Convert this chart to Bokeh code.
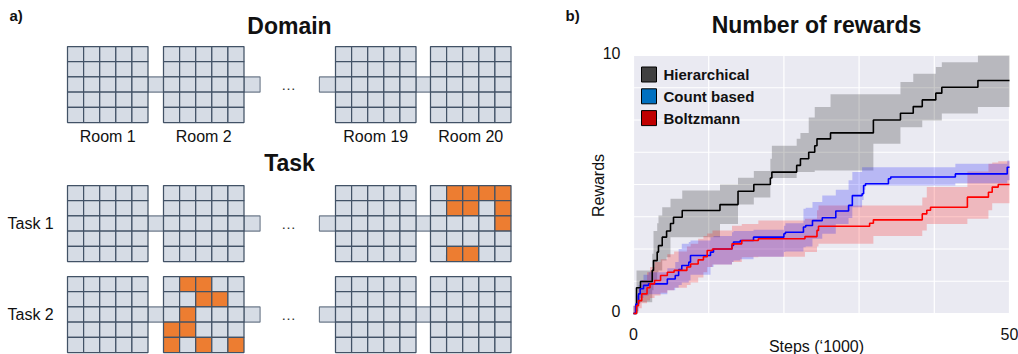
import math
from bokeh.plotting import figure
from bokeh.models import Range1d
from bokeh.embed import file_html
from bokeh.resources import INLINE
from bokeh.core.properties import value

FONT = "Liberation Sans"

# ---------------- data: panel a (diagram) ----------------
ROOM_LABELS = ["Room 1", "Room 2", "Room 19", "Room 20"]
ROW_LABELS = ["Task 1", "Task 2"]
HEADINGS = ["Domain", "Task"]
PANEL_TAGS = ["a)", "b)"]
GRID_N = 5
# goal cells as (row, col), row 0 = top
TASK1_GOALS = [(0, 1), (0, 2), (0, 3), (0, 4), (1, 1), (1, 2), (1, 4), (2, 4), (4, 1), (4, 2)]  # in Room 20
TASK2_GOALS = [(0, 1), (0, 2), (1, 2), (1, 3), (2, 1), (3, 0), (3, 1), (4, 0), (4, 2), (4, 4)]  # in Room 2

# ---------------- data: panel b (rewards) ----------------
HIER_X = [0, 0.4, 0.93, 2.49, 2.66, 3.15, 3.32, 3.82, 4.4, 4.92, 5.32, 6.48, 11.5, 13.9, 16.0, 18.2, 18.4,
          21.7, 22.2, 23.3, 24.1, 24.4, 26.2, 31.9, 35.5, 37.2, 38.4, 40.2, 41.0, 45.8]
HIER_MEAN = [0, 1.0, 1.24, 1.67, 2.05, 2.38, 2.63, 2.96, 3.2, 3.49, 3.73, 3.99, 4.22, 4.74, 5.0, 5.25, 5.48,
             5.74, 6.0, 6.25, 6.5, 6.77, 7.0, 7.5, 7.76, 8.02, 8.28, 8.54, 8.77, 9.03]
HIER_LO = [0, 0.4, 0.44, 0.9, 1.28, 1.6, 1.67, 2.05, 2.18, 2.96, 2.96, 2.96, 3.47, 4.22, 4.5, 5.25, 5.25,
           5.48, 5.48, 5.48, 5.54, 5.54, 5.54, 6.58, 7.22, 7.22, 7.48, 7.48, 7.75, 8.0]
HIER_HI = [0.3, 1.67, 1.67, 2.32, 3.2, 3.5, 3.8, 4.12, 4.12, 4.45, 4.45, 4.77, 5.0, 5.26, 5.52, 6.0, 6.5,
           6.77, 7.0, 7.6, 8.0, 8.0, 8.5, 8.5, 8.97, 9.29, 9.29, 9.55, 9.74, 10.0]

COUNT_X = [0, 0.31, 0.66, 0.89, 1.33, 2.0, 4.5, 5.55, 6.0, 6.42, 7.35, 7.58, 10.24, 10.64, 13.1, 13.3, 14.2,
           15.96, 20.0, 20.2, 22.6, 22.9, 23.8, 25.1, 26.9, 28.6, 29.1, 30.4, 30.6, 30.85, 33.9, 34.2, 42.8, 49.7]
COUNT_MEAN = [0, 0.37, 0.76, 0.96, 1.09, 1.15, 1.34, 1.47, 1.7, 1.86, 1.99, 2.25, 2.38, 2.5, 2.64, 2.77, 2.83,
              2.96, 3.09, 3.15, 3.35, 3.41, 3.6, 3.71, 3.97, 4.19, 4.57, 4.64, 4.96, 5.03, 5.22, 5.29, 5.41, 5.67]
COUNT_LO = [0, 0.1, 0.4, 0.6, 0.7, 0.75, 0.9, 1.0, 1.1, 1.2, 1.28, 1.5, 1.8, 1.9, 2.0, 2.05, 2.1,
            2.2, 2.38, 2.4, 2.57, 2.6, 2.9, 3.09, 3.47, 3.7, 4.12, 4.4, 4.8, 4.96, 4.96, 4.96, 5.05, 5.16]
COUNT_HI = [0.3, 0.7, 1.1, 1.3, 1.5, 1.6, 1.75, 2.0, 2.5, 2.7, 2.77, 2.83, 2.96, 3.0, 3.15, 3.2, 3.2,
            3.25, 3.4, 3.5, 4.06, 4.1, 4.32, 4.57, 4.8, 5.16, 5.48, 5.67, 5.67, 5.67, 5.67, 5.67, 5.8, 5.93]

BOLTZ_X = [0, 0.4, 0.66, 1.1, 1.8, 2.2, 2.8, 3.6, 4.5, 5.4, 7.1, 7.6, 8.6, 9.3, 9.8, 10.5, 13.1, 14.4, 16.6,
           22.8, 24.4, 24.6, 31.4, 31.9, 38.4, 39.0, 39.5, 44.4, 47.2, 47.7, 48.5]
BOLTZ_MEAN = [0, 0.3, 0.5, 0.76, 1.0, 1.15, 1.28, 1.47, 1.6, 1.67, 1.8, 1.92, 2.08, 2.2, 2.44, 2.5, 2.7, 2.83,
              2.9, 2.98, 3.22, 3.38, 3.5, 3.63, 3.86, 4.0, 4.12, 4.51, 4.7, 4.9, 5.0]
BOLTZ_LO = [0, 0.05, 0.2, 0.4, 0.5, 0.6, 0.7, 0.8, 0.9, 1.0, 1.1, 1.2, 1.4, 1.6, 1.8, 1.9, 2.0, 2.18, 2.2,
            2.38, 2.6, 2.7, 2.7, 3.0, 3.22, 3.47, 3.47, 3.67, 4.0, 4.27, 4.27]
BOLTZ_HI = [0.3, 0.7, 1.0, 1.3, 1.6, 1.8, 2.0, 2.1, 2.3, 2.4, 2.6, 2.7, 2.9, 3.0, 3.1, 3.22, 3.4, 3.47, 3.6,
            3.67, 4.0, 4.19, 4.19, 4.19, 4.5, 4.9, 4.9, 5.5, 5.8, 5.85, 5.9]

SERIES_NAMES = ["Hierarchical", "Count based", "Boltzmann"]
CHART_TITLE = "Number of rewards"
X_LABEL = "Steps (\u20181000)"
Y_LABEL = "Rewards"
X_MAX = 50
Y_MAX = 10
X_TICKS = [0, 50]
Y_TICKS = [0, 10]
X_GRID = [0, 10, 20, 30, 40, 50]
Y_GRID = [0, 1.25, 2.5, 3.75, 5, 6.25, 7.5, 8.75, 10]

# ---------------- styles / layout (page pixels) ----------------
W, H = 1018, 354
CELL_FILL = "#d6dce5"
CELL_LINE = "#425266"
GOAL_FILL = "#ed7d31"
ROOM_LEFT = [67, 163, 335, 430]
BLOCK_TOP = [46, 185, 276]
CW, CH = 16.1, 15.2
FRAME_L, FRAME_R, FRAME_T, FRAME_B = 633, 1009, 55, 313
SERIES_LINE = ["black", "blue", "red"]
BAND_ORDER = [0, 2, 1]
LEGEND_SWATCH = ["#404040", "#0070c0", "#c00000"]
TXT = "#111111"

p = figure(width=W, height=H, x_range=Range1d(0, W), y_range=Range1d(H, 0),
           x_axis_type=None, y_axis_type=None, toolbar_location=None,
           output_backend="svg", min_border=0, outline_line_color=None, title=None,
           background_fill_color="white", border_fill_color="white")
p.grid.visible = False

# chart scales (the data ranges of panel b mapped onto its plot area)
sx = (FRAME_R - FRAME_L) / X_MAX
sy = (FRAME_B - FRAME_T) / Y_MAX
p.extra_x_ranges = {"cx": Range1d(-FRAME_L / sx, (W - FRAME_L) / sx)}
p.extra_y_ranges = {"cy": Range1d(-(H - FRAME_B) / sy, FRAME_B / sy)}
C = dict(x_range_name="cx", y_range_name="cy")

# ================= panel a =================
goal_sets = {(1, 3): set(TASK1_GOALS), (2, 1): set(TASK2_GOALS)}
cor_l, cor_r, cor_t, cor_b = [], [], [], []
cl, cr, ct, cb, cf = [], [], [], [], []
for b, top in enumerate(BLOCK_TOP):
    mid_t = top + 2 * CH
    mid_b = mid_t + CH
    rr = [x + GRID_N * CW for x in ROOM_LEFT]
    segs = [(rr[0], ROOM_LEFT[1]), (rr[1], rr[1] + CW), (ROOM_LEFT[2] - CW, ROOM_LEFT[2]), (rr[2], ROOM_LEFT[3])]
    for l, r in segs:
        cor_l.append(l); cor_r.append(r); cor_t.append(mid_t); cor_b.append(mid_b)
    for ri, x0 in enumerate(ROOM_LEFT):
        goals = goal_sets.get((b, ri), set())
        for i in range(GRID_N):
            for j in range(GRID_N):
                cl.append(x0 + j * CW); cr.append(x0 + (j + 1) * CW)
                ct.append(top + i * CH); cb.append(top + (i + 1) * CH)
                cf.append(GOAL_FILL if (i, j) in goals else CELL_FILL)

p.quad(left=cor_l, right=cor_r, top=cor_t, bottom=cor_b, fill_color=CELL_FILL,
       line_color=CELL_LINE, line_width=1.1, line_alpha=0.75)
p.quad(left=cl, right=cr, top=ct, bottom=cb, fill_color=cf,
       line_color=CELL_LINE, line_width=1.25)

room_cx = [x + GRID_N * CW / 2 for x in ROOM_LEFT]
p.text(x=room_cx, y=[136] * len(ROOM_LABELS), text=ROOM_LABELS, text_font=value(FONT),
       text_font_size="16px", text_align="center", text_baseline="middle", text_color=TXT)
p.text(x=[7, 7], y=[BLOCK_TOP[1] + 2.5 * CH, BLOCK_TOP[2] + 2.5 * CH], text=ROW_LABELS,
       text_font=value(FONT), text_font_size="16px", text_align="left", text_baseline="middle",
       text_color=TXT)
p.text(x=[289, 289], y=[25, 162], text=HEADINGS, text_font=value(FONT), text_font_size="23px",
       text_font_style="bold", text_align="center", text_baseline="middle", text_color=TXT)
p.text(x=[288, 288, 288], y=[BLOCK_TOP[k] + 2.5 * CH for k in range(3)], text=["\u2026"] * 3,
       text_font=value(FONT), text_font_size="15px", text_align="center", text_baseline="middle",
       text_color="#333333")
p.text(x=[9, 565], y=[15, 15], text=PANEL_TAGS, text_font=value(FONT), text_font_size="15px",
       text_font_style="bold", text_align="left", text_baseline="middle", text_color=TXT)

# ================= panel b =================
p.quad(left=[0], right=[X_MAX], bottom=[0], top=[Y_MAX], fill_color="#eaeaf2", line_color=None, **C)
p.segment(x0=X_GRID, x1=X_GRID, y0=[0] * len(X_GRID), y1=[Y_MAX] * len(X_GRID),
          line_color="white", line_width=1.2, **C)
p.segment(x0=[0] * len(Y_GRID), x1=[X_MAX] * len(Y_GRID), y0=Y_GRID, y1=Y_GRID,
          line_color="white", line_width=1.2, **C)


def ext(xs):
    return list(xs) + [X_MAX]


def extv(vs):
    return list(vs) + [vs[-1]]


series = [
    (HIER_X, HIER_MEAN, HIER_LO, HIER_HI),
    (COUNT_X, COUNT_MEAN, COUNT_LO, COUNT_HI),
    (BOLTZ_X, BOLTZ_MEAN, BOLTZ_LO, BOLTZ_HI),
]
for k in BAND_ORDER:
    xs, m, lo, hi = series[k]
    p.varea_step(x=ext(xs), y1=extv(lo), y2=extv(hi), step_mode="after",
                 fill_color=SERIES_LINE[k], fill_alpha=0.21, **C)
for (xs, m, lo, hi), c in zip(series, SERIES_LINE):
    p.step(x=ext(xs), y=extv(m), mode="after", line_color=c, line_width=1.6, **C)

# tick labels (axes of panel b)
p.text(x=X_TICKS, y=[-20 / sy] * len(X_TICKS), text=[str(t) for t in X_TICKS], text_font=value(FONT),
       text_font_size="16px", text_align="center", text_baseline="middle", text_color=TXT, **C)
p.text(x=[-13 / sx] * len(Y_TICKS), y=Y_TICKS, text=[str(t) for t in Y_TICKS], text_font=value(FONT),
       text_font_size="16px", text_align="right", text_baseline="middle", y_offset=-3,
       text_color=TXT, **C)
p.text(x=[598], y=[185], text=[Y_LABEL], angle=math.pi / 2, text_font=value(FONT),
       text_font_size="16px", text_align="center", text_baseline="middle", text_color=TXT)
p.text(x=[816], y=[346], text=[X_LABEL], text_font=value(FONT),
       text_font_size="16px", text_align="center", text_baseline="middle", text_color=TXT)
p.text(x=[816], y=[24], text=[CHART_TITLE], text_font=value(FONT), text_font_size="23px",
       text_font_style="bold", text_align="center", text_baseline="middle", text_color=TXT)

# legend
LEG_X, LEG_Y, LEG_STEP, SW = 641, 66.5, 21.8, 15
for k, (name, col) in enumerate(zip(SERIES_NAMES, LEGEND_SWATCH)):
    y0 = LEG_Y + k * LEG_STEP
    p.quad(left=[LEG_X], right=[LEG_X + SW], top=[y0], bottom=[y0 + SW], fill_color=col,
           line_color="black", line_width=1)
    p.text(x=[LEG_X + SW + 7], y=[y0 + SW / 2], text=[name], text_font=value(FONT),
           text_font_size="15px", text_font_style="bold", text_align="left", text_baseline="middle",
           text_color=TXT)

open("out.html", "w").write(file_html(p, INLINE))
